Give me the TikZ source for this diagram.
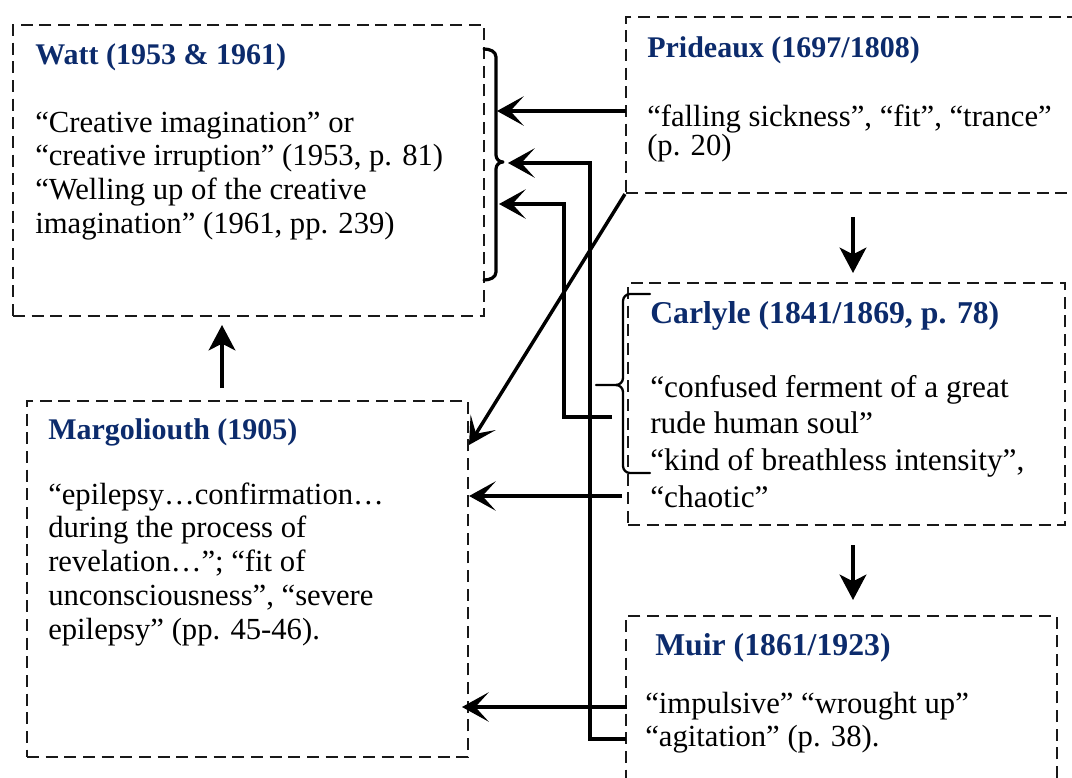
\documentclass[tikz,border=0pt]{standalone}
\usepackage{fontspec}
\setmainfont{Liberation Serif}
\usetikzlibrary{arrows.meta,fit}
\definecolor{ttlblue}{HTML}{0C2B6C}
\newcommand{\mylines}[1]{\begin{tabular}[t]{@{}l@{}}#1\end{tabular}}
\begin{document}
\begin{tikzpicture}[x=0.75pt,y=-0.75pt,
  box/.style={draw=black!90, line width=1.6pt, dash pattern=on 9pt off 5pt, inner sep=0pt},
  ttl/.style={anchor=base west, inner sep=0pt, text=ttlblue, font=\fontsize{22.5}{27}\selectfont\bfseries},
  ttlb/.style={ttl, font=\fontsize{23.8}{27}\selectfont\bfseries},
  body/.style={anchor=base west, inner sep=0pt, font=\fontsize{23}{25.4}\selectfont},
  conn/.style={line width=2.6pt},
  arr/.style={conn, -{Stealth[length=20pt,width=22pt,inset=10pt]}},
  varr/.style={conn, -{Stealth[length=19pt,width=20pt,inset=5pt]}},
  brc/.style={line width=2.4pt, line join=round, line cap=round}]
\path[use as bounding box] (0,0) rectangle (1072,778);
\clip (0,0) rectangle (1072,778);

% boxes
\node[box, fit={(13,25) (484,316)}] (watt) {};
\node[box, fit={(626,17) (1082,193)}] (prid) {};
\node[box, fit={(628,283) (1065,525)}] (carl) {};
\node[box, fit={(626,616) (1057,795)}] (muir) {};
\node[box, fit={(27,401) (468,757)}] (marg) {};

% texts
\node[ttl] (wattT) at (35,64) {Watt (1953 \& 1961)};
\node[body] (wattB) at (35,132) {\mylines{“Creative imagination” or\\
“creative irruption” (1953, p. 81)\\
“Welling up of the creative\\
imagination” (1961, pp. 239)}};

\node[ttl] (pridT) at (647,57) {Prideaux (1697/1808)};
\node[body, font=\fontsize{23}{21.8}\selectfont] (pridB) at (647,126) {\mylines{“falling sickness”, “fit”, “trance”\\
(p. 20)}};

\node[ttlb] (carlT) at (650,323) {Carlyle (1841/1869, p. 78)};
\node[body, font=\fontsize{23.5}{27.7}\selectfont] (carlB) at (650,397) {\mylines{“confused ferment of a great\\
rude human soul”\\
“kind of breathless intensity”,\\
“chaotic”}};

\node[ttlb] (muirT) at (655,655) {Muir (1861/1923)};
\node[body] (muirB) at (645,713) {\mylines{“impulsive” “wrought up”\\
“agitation” (p. 38).}};

\node[ttl] (margT) at (48,439) {Margoliouth (1905)};
\node[body] (margB) at (48,504) {\mylines{“epilepsy…confirmation…\\
during the process of\\
revelation…”; “fit of\\
unconsciousness”, “severe\\
epilepsy” (pp. 45-46).}};

% braces
\draw[brc] (484,49) to[out=0,in=90] (496,57) -- (496,155)
  to[out=-90,in=180] (503,162) to[out=180,in=90] (496,169)
  -- (496,272) to[out=-90,in=0] (484,280);
\draw[brc, line width=1.7pt] (650,294) -- (630,294) to[out=180,in=90] (623,301) -- (623,378)
  to[out=-90,in=0] (616,385) -- (596,385);
\draw[brc, line width=1.7pt] (616,385) to[out=0,in=90] (623,392) -- (623,466)
  to[out=-90,in=180] (630,473) -- (650,473);

% connector coordinates
\coordinate (a1s) at (626,111);
\coordinate (a1e) at (497,111);
\coordinate (a2s) at (626,739);
\coordinate (a2b) at (590,163);
\coordinate (a2e) at (508,163);
\coordinate (a3s) at (612,417);
\coordinate (a3b) at (564,204);
\coordinate (a3e) at (499,204);
\coordinate (a4e) at (469,445);
\coordinate (a5s) at (622,496);
\coordinate (a6s) at (627,707);
\coordinate (a6e) at (462,707);
\coordinate (a7s) at (222,388);
\coordinate (a7e) at (222,325);
\coordinate (a8s) at (853,217);
\coordinate (a8e) at (853,273);
\coordinate (a9s) at (853,545);
\coordinate (a9e) at (853,600);

% connectors
\draw[arr] (a1s) -- (a1e);
\draw[arr] (a2s) -| (a2b) -- (a2e);
\draw[arr] (a3s) -| (a3b) -- (a3e);
\draw[arr] (prid.south west) -- (a4e);
\draw[arr] (a5s) -- (marg.east |- a5s);
\draw[arr] (a6s) -- (a6e);
\draw[varr] (a7s) -- (a7e);
\draw[varr] (a8s) -- (a8e);
\draw[varr] (a9s) -- (a9e);
\end{tikzpicture}
\end{document}
